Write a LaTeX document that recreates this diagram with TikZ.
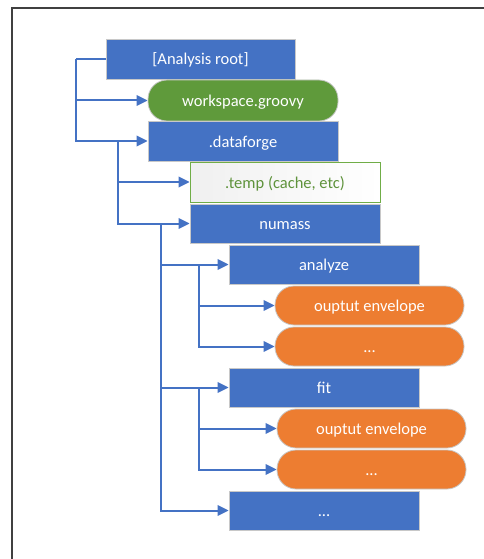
\documentclass[tikz,border=0pt]{standalone}
\usepackage{fontspec}
\setmainfont{Carlito}
\usetikzlibrary{arrows.meta,calc}
\definecolor{mblue}{HTML}{4472C4}
\definecolor{mgreen}{HTML}{5F9A3B}
\definecolor{lgreen}{HTML}{70AD47}
\definecolor{morange}{HTML}{ED7D31}
\definecolor{frame}{HTML}{404040}
\definecolor{bord}{HTML}{C8C8C8}
\begin{document}
\begin{tikzpicture}[x=1pt,y=-1pt,
  box/.style={draw=bord, line width=0.8pt, minimum width=190pt, minimum height=40pt, inner sep=0pt, text=white, font=\fontsize{16.5}{19}\selectfont, text height=13pt, text depth=1pt},
  bluebox/.style={box, fill=mblue},
  greenpill/.style={box, fill=mgreen, rounded corners=19pt, minimum height=41pt},
  orangepill/.style={box, fill=morange, rounded corners=19pt, minimum height=39pt, minimum width=189pt},
  tempbox/.style={box, draw=lgreen, left color=black!6, right color=white, text=lgreen!85!black},
  conn/.style={draw=mblue, line width=2pt, -{Triangle[length=11pt,width=10.5pt]}},
  plain/.style={draw=mblue, line width=2pt}
]
\useasboundingbox (0,0) rectangle (484,559);
\draw[frame, line width=2pt] (12,560) -- (12,8.5) -- (485,8.5);

\node[bluebox, minimum width=189pt] (root) at (200.5,59) {[Analysis root]};
\node[greenpill] (ws) at (243,100.5) {workspace.groovy};
\node[bluebox] (df) at (243,141) {.dataforge};
\node[tempbox] (temp) at (285,182) {.temp (cache, etc)};
\node[bluebox, minimum height=39pt] (numass) at (285,223.5) {numass};
\node[bluebox, minimum height=39pt] (analyze) at (324,264.5) {analyze};
\node[orangepill] (oe1) at (369.5,305.5) {ouptut envelope};
\node[orangepill] (d1) at (369.5,346.5) {...};
\node[bluebox, minimum height=39pt] (fit) at (324,387.5) {fit};
\node[orangepill] (oe2) at (371.5,428.5) {ouptut envelope};
\node[orangepill] (d2) at (371.5,469.5) {...};
\node[bluebox, minimum height=39pt] (d3) at (324,510.5) {...};

\coordinate (j0) at ($(root.west)+(-30,0)$);
\coordinate (j1) at ($(df.west)+(-30,0)$);
\coordinate (j2) at ($(numass.west)+(-29,0)$);
\coordinate (j3) at ($(analyze.west)+(-30,0)$);
\coordinate (j4) at ($(fit.west)+(-30,0)$);

\draw[plain] (root.west) -- (j0);
\draw[conn] (j0) |- (ws.west);
\draw[conn] (j0) |- (df.west);
\draw[conn] (j1) |- (temp.west);
\draw[conn] (j1) |- (numass.west);
\draw[conn] (j2) |- (analyze.west);
\draw[conn] (j2) |- (fit.west);
\draw[conn] (j2) |- (d3.west);
\draw[conn] (j3) |- (oe1.west);
\draw[conn] (j3) |- (d1.west);
\draw[conn] (j4) |- (oe2.west);
\draw[conn] (j4) |- (d2.west);
\end{tikzpicture}
\end{document}
